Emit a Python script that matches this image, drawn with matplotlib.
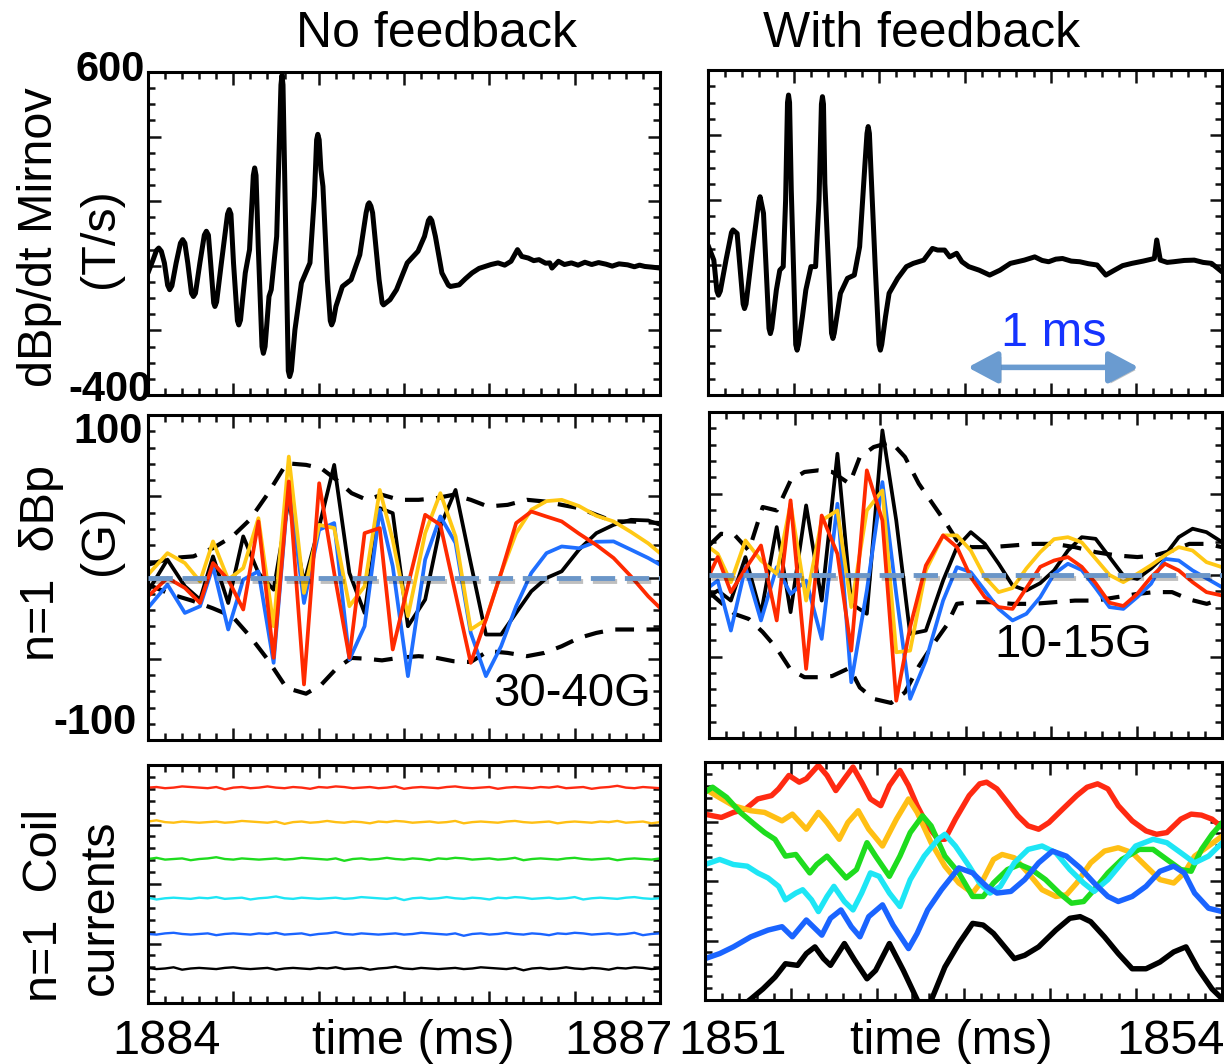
import numpy as np
import matplotlib.pyplot as plt
import matplotlib.patheffects as pe
from matplotlib.ticker import MultipleLocator
from matplotlib.patches import FancyArrowPatch

plt.rcParams['font.family'] = ['Liberation Sans', 'DejaVu Sans']

W, H = 1224, 1064

# ---- Mirnov dBp/dt (T/s), time in ms after window start ----
# no feedback, window starts at 1884 ms
mir_nofb_t = [0.000, 0.030, 0.050, 0.063, 0.078, 0.096, 0.115, 0.127, 0.140, 0.165,
              0.190, 0.203, 0.216, 0.233, 0.255, 0.266, 0.278, 0.304, 0.330, 0.342,
              0.354, 0.367, 0.385, 0.392, 0.402, 0.430, 0.466, 0.476, 0.486, 0.501,
              0.524, 0.532, 0.542, 0.570, 0.595, 0.617, 0.625, 0.633, 0.646, 0.668,
              0.676, 0.686, 0.709, 0.722, 0.754, 0.779, 0.785, 0.791, 0.822, 0.830,
              0.840, 0.861, 0.899, 0.924, 0.949, 0.975, 0.988, 0.995, 1.003, 1.013,
              1.025, 1.051, 1.068, 1.076, 1.086, 1.101, 1.139, 1.190, 1.241, 1.278,
              1.289, 1.296, 1.306, 1.316, 1.354, 1.372, 1.380, 1.418, 1.456, 1.519,
              1.582, 1.620, 1.643, 1.653, 1.663, 1.684, 1.722, 1.760, 1.772, 1.823,
              1.860, 1.899, 1.940, 1.975, 2.010, 2.051, 2.090, 2.127, 2.165, 2.190,
              2.228, 2.260, 2.291, 2.330, 2.354, 2.367, 2.405, 2.440, 2.481, 2.520,
              2.560, 2.600, 2.640, 2.684, 2.720, 2.760, 2.810, 2.850, 2.880, 2.911,
              2.950, 3.000]
mir_nofb_v = [-22, 19, 48, 55, 45, 9, -60, -74, -62, 9,
              70, 81, 70, 9, -85, -95, -85, 9, 95, 107,
              95, 9, -115, -126, -112, 9, 160, 174, 160, 9,
              -170, -183, -168, -22, 50, 280, 303, 280, 60, -250,
              -271, -250, -95, -74, 91, 560, 590, 560, -325, -343,
              -325, -198, -53, -22, 9, 215, 390, 407, 390, 298,
              246, -43, -170, -183, -170, -126, -64, -43, 34, 164,
              190, 195, 185, 164, -43, -115, -121, -105, -74, 9,
              45, 91, 140, 148, 140, 91, -22, -60, -64, -59,
              -40, -22, -8, -2, 4, 9, 2, 14, 50, 29,
              24, 16, 19, 8, 9, -7, 14, 4, 9, 2,
              11, 4, 10, 5, -1, 6, 3, -3, 2, -2,
              -4, -7]

# with feedback, window starts at 1851 ms
mir_fb_t = [0.000, 0.034, 0.052, 0.061, 0.072, 0.105, 0.137, 0.146, 0.170, 0.205,
            0.213, 0.222, 0.257, 0.296, 0.304, 0.324, 0.356, 0.364, 0.372, 0.399,
            0.419, 0.439, 0.453, 0.464, 0.470, 0.476, 0.486, 0.512, 0.520, 0.528,
            0.551, 0.571, 0.601, 0.628, 0.648, 0.662, 0.668, 0.674, 0.682, 0.721,
            0.729, 0.737, 0.773, 0.814, 0.854, 0.885, 0.915, 0.928, 0.935, 0.942,
            0.951, 0.976, 0.998, 1.006, 1.014, 1.036, 1.057, 1.107, 1.158, 1.198,
            1.259, 1.310, 1.340, 1.381, 1.411, 1.451, 1.482, 1.522, 1.583, 1.644,
            1.704, 1.765, 1.846, 1.907, 1.950, 1.988, 2.030, 2.069, 2.120, 2.170,
            2.220, 2.271, 2.322, 2.372, 2.420, 2.474, 2.540, 2.605, 2.619, 2.640,
            2.680, 2.717, 2.780, 2.838, 2.890, 2.939, 3.000]
mir_fb_v = [61, 15, -80, -93, -80, 15, 100, 108, 97, -120,
            -134, -120, 36, 195, 210, 159, -195, -211, -195, -77,
            -16, -5, 200, 500, 523, 500, 231, -245, -262, -245,
            -159, -77, -5, -5, 200, 495, 518, 495, 251, -210,
            -226, -210, -87, -41, -31, 56, 302, 405, 426, 405,
            292, -5, -245, -262, -245, -159, -87, -41, -5, 5,
            15, 51, 46, 46, 25, 36, 10, -5, -16, -31,
            -16, 5, 15, 25, 14, 10, 18, 20, 12, 10,
            4, 0, -31, -16, -2, 5, 12, 20, 77, 15,
            8, 10, 14, 15, 8, 5, -21]

# ---- n=1 dBp (G), no feedback ----
db_nofb_t = [0.000, 0.114, 0.216, 0.305, 0.381, 0.470, 0.558, 0.647, 0.736, 0.825,
             0.914, 1.003, 1.091, 1.180, 1.269, 1.358, 1.434, 1.523, 1.624, 1.713,
             1.802, 1.891, 1.980, 2.069, 2.157, 2.246, 2.335, 2.424, 2.525, 2.627,
             2.728, 2.830, 2.931, 3.000]
db_nofb_black = [-8.5, 11.0, -5.4, -13.6, 13.0, -15.7, 25.3, 2.8, -7.5, 47.8,
                 -3.4, 31.4, 69.3, 2.8, -21.8, 42.7, 39.6, -30.0, -13.6, 31.4,
                 53.9, 8.9, -35.1, -35.1, -21.8, -8.5, -0.3, 3.8, 17.1, 27.3,
                 32.4, 35.5, 35.1, 32.4]
db_nofb_yellow = [1.7, 15.0, 8.9, -2.4, 22.2, -1.3, 5.8, 36.5, -30.0, 74.4,
                  -9.5, 32.4, 30.4, -17.7, -5.4, 53.9, 23.2, -23.8, 27.3, 51.9,
                  25.3, -32.0, -25.9, 2.8, 27.3, 41.7, 47.0, 47.8, 44.0, 38.0,
                  34.5, 28.0, 21.0, 15.0]
db_nofb_blue = [-18.7, -4.4, -21.8, -17.7, 6.9, -32.0, -1.3, 3.8, -52.5, 58.0,
                -15.7, 29.4, 33.5, -50.5, -30.0, 41.7, 6.9, -60.7, 11.0, 37.6,
                21.2, -34.1, -60.7, -42.3, -17.7, 2.8, 15.0, 19.1, 18.0, 22.0,
                22.2, 17.1, 12.0, 7.9]
db_nofb_red = [-11.6, -0.3, -6.4, -15.7, 8.9, -1.3, -19.7, 34.5, -49.4, 59.1,
               -65.8, 58.0, 2.8, -49.4, 27.3, 30.4, -44.3, -5.0, 38.6, 32.4,
               -10.0, -52.5, -25.9, 2.8, 33.5, 40.6, 37.5, 34.5, 27.0, 20.0,
               12.0, 0.7, -11.6, -18.7]
env_nofb_t = [0.000, 0.140, 0.266, 0.381, 0.495, 0.596, 0.698, 0.812, 0.926, 1.015,
              1.104, 1.193, 1.282, 1.371, 1.472, 1.586, 1.688, 1.789, 1.891, 1.992,
              2.107, 2.221, 2.322, 2.424, 2.525, 2.627, 2.728, 2.830, 3.000]
env_nofb_hi = [7.9, 12.0, 13.0, 18.1, 25.3, 35.5, 50.9, 70.3, 69.3, 67.2,
               60.1, 51.9, 47.8, 50.9, 47.8, 47.8, 48.8, 50.9, 47.8, 43.7,
               44.7, 47.8, 46.8, 44.7, 42.7, 38.6, 34.5, 34.5, 33.5]
env_nofb_lo = [-4.4, -10.5, -14.5, -19.0, -24.0, -36.0, -50.0, -68.0, -71.5, -66.0,
               -56.0, -49.5, -50.0, -51.0, -49.4, -48.4, -49.4, -51.5, -52.0, -45.3,
               -46.4, -48.4, -46.4, -42.3, -37.2, -34.1, -32.0, -32.0, -32.0]

# ---- n=1 dBp (G), with feedback ----
db_fb_t = [0.000, 0.051, 0.128, 0.213, 0.304, 0.396, 0.477, 0.568, 0.659, 0.751,
           0.832, 0.923, 1.014, 1.095, 1.176, 1.268, 1.369, 1.450, 1.531, 1.613,
           1.694, 1.775, 1.856, 1.937, 2.018, 2.099, 2.180, 2.261, 2.342, 2.423,
           2.504, 2.585, 2.666, 2.747, 2.828, 2.909, 3.000]
db_fb_black = [-13.6, -9.5, -15.7, 11.0, -23.8, 29.4, -22.8, 42.7, -15.7, 74.4,
               -17.7, -23.8, 88.7, 33.5, -36.1, -34.1, -3.4, 17.1, 26.3, 19.1,
               6.9, -6.4, -9.5, -5.0, 2.8, 15.0, 23.2, 22.2, 11.0, -0.3,
               -2.4, 4.0, 12.0, 23.2, 28.4, 26.3, 20.2]
db_fb_yellow = [17.1, 13.0, -4.4, 21.2, 8.9, 0.7, 43.7, -15.7, 33.5, 39.6,
                -19.7, 39.6, 51.9, -47.4, -46.4, 2.8, 24.3, 24.3, 15.0, -1.3,
                -10.5, -8.0, 4.0, 14.0, 22.0, 23.2, 20.0, 10.0, 0.0, -4.4,
                0.7, 6.0, 12.0, 17.1, 15.0, 7.9, 4.8]
db_fb_blue = [-7.5, -3.4, -34.1, 4.8, -27.9, 4.8, -11.6, -3.4, -39.2, 43.7,
              -65.8, -9.5, 57.0, -11.6, -76.0, -52.5, -15.7, 4.8, 1.7, -9.5,
              -20.8, -27.9, -23.8, -13.6, 0.7, 6.9, 3.0, -8.0, -19.7, -20.8,
              -13.6, -5.4, 9.9, 8.9, 2.8, -2.0, -7.5]
db_fb_red = [-0.3, 11.0, -10.5, 3.8, 18.1, -27.9, 45.8, -57.6, 36.5, 13.0,
             -46.4, 64.2, 33.5, -77.1, -32.0, 5.8, 24.3, 17.1, -1.3, -13.6,
             -19.7, -20.8, -8.0, 5.0, 8.9, 11.0, 5.0, -5.0, -17.0, -19.0,
             -11.6, -1.3, 6.9, 2.8, -4.4, -10.5, -12.6]
env_fb_t = [0.000, 0.071, 0.152, 0.233, 0.314, 0.396, 0.477, 0.558, 0.639, 0.720,
            0.822, 0.882, 0.963, 1.065, 1.146, 1.227, 1.308, 1.389, 1.450, 1.531,
            1.653, 1.775, 1.897, 2.018, 2.140, 2.262, 2.384, 2.505, 2.606, 2.708,
            2.809, 2.911, 3.000]
env_fb_hi = [18.1, 25.3, 24.3, 15.0, 41.7, 39.6, 58.0, 63.2, 64.2, 63.2,
             56.0, 72.4, 78.5, 81.6, 72.4, 56.0, 43.7, 31.4, 21.2, 17.1,
             17.1, 18.1, 19.1, 19.1, 17.1, 14.0, 12.0, 11.0, 12.0, 15.0,
             19.1, 19.1, 17.1]
env_fb_lo = [-10.5, -17.0, -24.0, -27.0, -35.0, -45.0, -58.0, -62.7, -62.7, -62.0,
             -57.0, -69.0, -76.0, -78.5, -72.0, -56.0, -43.0, -31.0, -17.7, -16.7,
             -16.7, -17.7, -17.7, -16.7, -15.7, -15.7, -13.6, -11.6, -10.5, -10.5,
             -15.0, -17.7, -14.6]

# ---- n=1 coil currents (arb.), no feedback: flat levels plus ripple ----
coil_levels = [3.62, 3.04, 2.42, 1.76, 1.16, 0.58]
coil_colors = ['#ff2a12', '#ffbf14', '#1edc1e', '#1ee6f5', '#1a64ff', '#000000']
coil_ripple = [0.00, 0.01, -0.01, 0.00, 0.02, 0.01, 0.00, -0.01, 0.01, -0.03,
               0.00, 0.01, -0.01, 0.00, 0.02, 0.00, -0.01, 0.01, 0.00, -0.02,
               0.01, 0.00, 0.02, 0.01, -0.01, 0.00, 0.01, -0.01, 0.00, 0.02,
               -0.02, 0.00, 0.01, 0.00, -0.01, 0.01, 0.02, 0.00, -0.01, 0.00,
               0.01, -0.02, 0.00, 0.01, 0.00, -0.01, 0.01, 0.00, 0.02, -0.01,
               0.00, 0.01, -0.02, 0.00, 0.01, 0.03, 0.00, -0.01, 0.01, 0.00,
               -0.01]
coil_t = np.linspace(0, 3, len(coil_ripple))

# ---- n=1 coil currents (arb.), with feedback ----
coil_fb_red_t = [0.000, 0.044, 0.095, 0.165, 0.235, 0.306, 0.386, 0.427, 0.487, 0.547,
                 0.588, 0.658, 0.708, 0.759, 0.809, 0.859, 0.909, 0.960, 1.020, 1.070,
                 1.131, 1.181, 1.231, 1.292, 1.352, 1.392, 1.453, 1.533, 1.594, 1.634,
                 1.694, 1.755, 1.815, 1.875, 1.936, 1.996, 2.076, 2.157, 2.217, 2.278,
                 2.338, 2.398, 2.479, 2.559, 2.620, 2.680, 2.761, 2.821, 2.881, 2.942,
                 3.002]
coil_fb_red = [3.124, 3.096, 3.068, 3.153, 3.209, 3.379, 3.435, 3.548, 3.774, 3.661,
               3.718, 3.944, 3.774, 3.520, 3.718, 3.915, 3.661, 3.379, 3.266, 3.604,
               3.859, 3.604, 3.266, 2.927, 2.701, 2.701, 3.040, 3.435, 3.633, 3.661,
               3.548, 3.322, 3.096, 2.927, 2.870, 2.983, 3.209, 3.435, 3.576, 3.633,
               3.548, 3.266, 3.011, 2.842, 2.785, 2.814, 3.040, 3.124, 3.107, 3.040,
               2.898]
coil_fb_yellow_t = [0.000, 0.064, 0.165, 0.266, 0.346, 0.447, 0.507, 0.588, 0.658, 0.708,
                    0.779, 0.829, 0.889, 0.950, 1.030, 1.111, 1.181, 1.231, 1.312, 1.392,
                    1.473, 1.553, 1.614, 1.674, 1.724, 1.795, 1.875, 1.956, 2.036, 2.097,
                    2.157, 2.238, 2.318, 2.398, 2.479, 2.559, 2.640, 2.720, 2.781, 2.841,
                    2.922, 3.002]
coil_fb_yellow = [3.548, 3.435, 3.266, 3.181, 3.153, 3.011, 3.124, 2.870, 3.153, 2.983,
                  2.701, 2.983, 3.181, 2.870, 2.588, 3.040, 3.379, 3.153, 2.644, 2.249,
                  1.966, 1.797, 2.023, 2.362, 2.446, 2.390, 2.136, 1.853, 1.740, 1.768,
                  1.966, 2.305, 2.503, 2.559, 2.475, 2.249, 2.023, 1.966, 2.136, 2.418,
                  2.588, 2.757]
coil_fb_green_t = [0.000, 0.044, 0.125, 0.205, 0.286, 0.346, 0.406, 0.467, 0.527, 0.608,
                   0.648, 0.708, 0.759, 0.819, 0.879, 0.940, 0.990, 1.070, 1.131, 1.191,
                   1.262, 1.312, 1.392, 1.473, 1.553, 1.614, 1.674, 1.755, 1.825, 1.895,
                   1.976, 2.056, 2.127, 2.197, 2.258, 2.338, 2.419, 2.519, 2.600, 2.680,
                   2.761, 2.821, 2.881, 2.942, 3.002]
coil_fb_green = [3.492, 3.576, 3.407, 3.153, 2.955, 2.814, 2.701, 2.418, 2.446, 2.136,
                 2.277, 2.418, 2.249, 2.051, 2.192, 2.644, 2.418, 2.079, 2.418, 2.814,
                 3.096, 2.927, 2.418, 2.136, 1.740, 1.740, 1.966, 2.192, 2.277, 2.192,
                 2.023, 1.797, 1.627, 1.655, 1.853, 2.136, 2.362, 2.531, 2.531, 2.362,
                 2.192, 2.164, 2.531, 2.785, 2.983]
coil_fb_cyan_t = [0.000, 0.085, 0.165, 0.245, 0.306, 0.366, 0.427, 0.467, 0.527, 0.567,
                  0.618, 0.658, 0.708, 0.748, 0.809, 0.859, 0.909, 0.960, 1.010, 1.070,
                  1.131, 1.191, 1.272, 1.352, 1.392, 1.453, 1.533, 1.594, 1.654, 1.714,
                  1.795, 1.875, 1.956, 2.036, 2.117, 2.197, 2.258, 2.338, 2.419, 2.499,
                  2.600, 2.680, 2.761, 2.841, 2.922, 3.002]
coil_fb_cyan = [2.277, 2.362, 2.277, 2.249, 2.136, 2.051, 1.910, 1.684, 1.797, 1.853,
                1.684, 1.486, 1.740, 1.910, 1.655, 1.514, 1.797, 2.136, 2.079, 1.797,
                1.571, 2.023, 2.418, 2.701, 2.785, 2.588, 2.249, 1.966, 1.797, 1.910,
                2.305, 2.531, 2.588, 2.475, 2.192, 1.966, 1.825, 2.023, 2.305, 2.588,
                2.701, 2.644, 2.475, 2.305, 2.418, 2.644]
coil_fb_blue_t = [0.000, 0.085, 0.165, 0.266, 0.366, 0.447, 0.507, 0.588, 0.678, 0.728,
                  0.789, 0.849, 0.899, 0.950, 1.030, 1.091, 1.181, 1.231, 1.292, 1.372,
                  1.473, 1.553, 1.634, 1.694, 1.775, 1.855, 1.936, 2.016, 2.097, 2.177,
                  2.258, 2.338, 2.398, 2.479, 2.559, 2.640, 2.720, 2.781, 2.841, 2.922,
                  3.002]
coil_fb_blue = [0.695, 0.780, 0.893, 1.062, 1.175, 1.232, 1.062, 1.345, 1.090, 1.373,
                1.514, 1.232, 1.062, 1.401, 1.599, 1.260, 0.864, 1.119, 1.514, 1.853,
                2.220, 2.136, 1.910, 1.797, 1.825, 2.023, 2.305, 2.503, 2.418, 2.220,
                1.966, 1.740, 1.655, 1.740, 1.910, 2.164, 2.249, 2.136, 1.797, 1.542,
                1.486]
coil_fb_black_t = [0.205, 0.266, 0.336, 0.406, 0.467, 0.537, 0.588, 0.638, 0.688, 0.728,
                   0.809, 0.869, 0.940, 0.990, 1.070, 1.151, 1.252, 1.312, 1.392, 1.473,
                   1.553, 1.614, 1.674, 1.755, 1.795, 1.855, 1.936, 2.036, 2.117, 2.177,
                   2.238, 2.318, 2.398, 2.479, 2.559, 2.640, 2.720, 2.791, 2.861, 2.942,
                   3.002]
coil_fb_black = [-0.124, 0.017, 0.186, 0.384, 0.610, 0.582, 0.780, 0.893, 0.695, 0.582,
                 0.949, 0.667, 0.356, 0.497, 0.949, 0.497, -0.124, -0.011, 0.554, 0.949,
                 1.288, 1.260, 1.119, 0.836, 0.695, 0.751, 0.893, 1.175, 1.373, 1.401,
                 1.316, 1.062, 0.780, 0.525, 0.525, 0.638, 0.808, 0.893, 0.525, 0.186,
                 0.017]

C_BLACK, C_YEL, C_BLUE, C_RED = '#000000', '#ffc814', '#1f6fff', '#ff2a00'
ZERO_C = '#6b96c8'


def px_axes(fig, x0, y0, x1, y1):
    return fig.add_axes([x0 / W, 1 - y1 / H, (x1 - x0) / W, (y1 - y0) / H])


def style(ax, ylim, ymaj, ymin):
    ax.set_xlim(0, 3)
    ax.set_ylim(*ylim)
    ax.xaxis.set_major_locator(MultipleLocator(0.5))
    ax.xaxis.set_minor_locator(MultipleLocator(0.1))
    ax.yaxis.set_major_locator(MultipleLocator(ymaj))
    ax.yaxis.set_minor_locator(MultipleLocator(ymin))
    ax.tick_params(which='both', direction='in', top=True, right=True,
                   labelbottom=False, labelleft=False, width=1.8, color='#111111')
    ax.tick_params(which='major', length=9)
    ax.tick_params(which='minor', length=5)
    for s in ax.spines.values():
        s.set_linewidth(2.2)


def ftext(x, y, s, **kw):
    kw.setdefault('fontsize', 35)
    kw.setdefault('ha', 'center')
    kw.setdefault('va', 'center')
    fig.text(x / W, 1 - y / H, s, **kw)


fig = plt.figure(figsize=(W / 100, H / 100), dpi=100)

# row 1: Mirnov signals
ax1 = px_axes(fig, 148, 72, 660, 395)
ax1.plot(mir_nofb_t, mir_nofb_v, color='k', lw=3.6,
         solid_joinstyle='round', solid_capstyle='round')
style(ax1, (-400, 600), 200, 50)

ax2 = px_axes(fig, 708, 70, 1222, 395)
ax2.plot(mir_fb_t, mir_fb_v, color='k', lw=3.6,
         solid_joinstyle='round', solid_capstyle='round')
style(ax2, (-400, 600), 200, 50)
arrow = FancyArrowPatch((1.50, -315), (2.53, -315),
                        arrowstyle='<|-|>,head_length=0.75,head_width=0.4',
                        mutation_scale=24, lw=4, color='#6a9bd0',
                        path_effects=[pe.SimplePatchShadow(offset=(2, -2), alpha=0.3),
                                      pe.Normal()])
ax2.add_patch(arrow)
ax2.text(2.02, -212, '1 ms', color='#1533ff', fontsize=35, ha='center', va='center')

# row 2: n=1 dBp
shadow = [pe.SimpleLineShadow(offset=(1.5, -2.5), alpha=0.25), pe.Normal()]

ax3 = px_axes(fig, 148, 415, 660, 740)
ax3.plot(env_nofb_t, env_nofb_hi, color='k', lw=3, dashes=(4.5, 3))
ax3.plot(env_nofb_t, env_nofb_lo, color='k', lw=3, dashes=(4.5, 3))
ax3.plot(db_nofb_t, db_nofb_black, color=C_BLACK, lw=2.7)
ax3.plot(db_nofb_t, db_nofb_blue, color=C_BLUE, lw=2.7)
ax3.plot(db_nofb_t, db_nofb_yellow, color=C_YEL, lw=2.7)
ax3.plot(db_nofb_t, db_nofb_red, color=C_RED, lw=2.7)
ax3.axhline(0, color=ZERO_C, lw=3.5, dashes=(5, 2), zorder=5, path_effects=shadow)
style(ax3, (-100, 100), 50, 10)
ax3.text(2.95, -72, '30-40G', fontsize=34, ha='right', va='center')

ax4 = px_axes(fig, 709, 412, 1222, 738)
ax4.plot(env_fb_t, env_fb_hi, color='k', lw=3, dashes=(4.5, 3))
ax4.plot(env_fb_t, env_fb_lo, color='k', lw=3, dashes=(4.5, 3))
ax4.plot(db_fb_t, db_fb_black, color=C_BLACK, lw=2.7)
ax4.plot(db_fb_t, db_fb_blue, color=C_BLUE, lw=2.7)
ax4.plot(db_fb_t, db_fb_yellow, color=C_YEL, lw=2.7)
ax4.plot(db_fb_t, db_fb_red, color=C_RED, lw=2.7)
ax4.axhline(0, color=ZERO_C, lw=3.5, dashes=(5, 2), zorder=5, path_effects=shadow)
style(ax4, (-100, 100), 50, 10)
ax4.text(2.13, -43, '10-15G', fontsize=34, ha='center', va='center')

# row 3: coil currents
ax5 = px_axes(fig, 148, 765, 660, 1003)
for k, (lev, col) in enumerate(zip(coil_levels, coil_colors)):
    ax5.plot(coil_t, lev + np.roll(coil_ripple, 7 * k), color=col, lw=1.7)
style(ax5, (0, 4), 1, 0.2)

ax6 = px_axes(fig, 705, 762, 1222, 1000)
for tt, vv, col in [(coil_fb_red_t, coil_fb_red, '#ff2a12'),
                    (coil_fb_yellow_t, coil_fb_yellow, '#ffbf14'),
                    (coil_fb_green_t, coil_fb_green, '#1edc1e'),
                    (coil_fb_cyan_t, coil_fb_cyan, '#1ee6f5'),
                    (coil_fb_blue_t, coil_fb_blue, '#1a64ff'),
                    (coil_fb_black_t, coil_fb_black, '#000000')]:
    ax6.plot(tt, vv, color=col, lw=3.9, solid_joinstyle='round')
style(ax6, (0, 4), 1, 0.2)

# titles, axis labels and end-point time labels
ftext(437, 34, 'No feedback', fontsize=36)
ftext(922, 34, 'With feedback', fontsize=36)

ftext(40, 237, 'dBp/dt Mirnov', rotation=90)
ftext(100, 238, '(T/s)', rotation=90)
ftext(145, 70, '600', fontsize=30, fontweight='bold', ha='right')
ftext(152, 390, '-400', fontsize=30, fontweight='bold', ha='right')

ftext(42, 563, 'n=1  δBp', rotation=90)
ftext(100, 540, '(G)', rotation=90)
ftext(143, 432, '100', fontsize=30, fontweight='bold', ha='right')
ftext(137, 723, '-100', fontsize=30, fontweight='bold', ha='right')

ftext(45, 905, 'n=1  Coil', rotation=90)
ftext(100, 907, 'currents', rotation=90)

ftext(166, 1041, '1884')
ftext(413, 1041, 'time (ms)')
ftext(618, 1041, '1887')
ftext(732, 1041, '1851')
ftext(951, 1041, 'time (ms)')
ftext(1170, 1041, '1854')

fig.savefig('out.png', dpi=100)
